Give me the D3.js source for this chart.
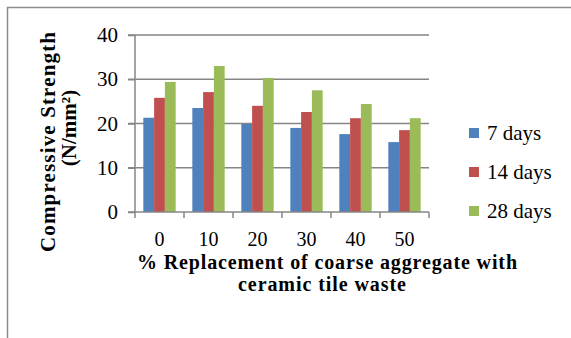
<!DOCTYPE html>
<html>
<head>
<meta charset="utf-8">
<script src="https://cdn.jsdelivr.net/npm/d3@7"></script>
<style>
  body { margin: 0; background: #fff; }
  svg text { font-family: "Liberation Serif", "DejaVu Serif", serif; }
</style>
</head>
<body>
<svg id="chart" width="571" height="338"></svg>
<script>
let categories = ["0", "10", "20", "30", "40", "50"];
let seriesNames = ["7 days", "14 days", "28 days"];
let days7 = [21.3, 23.5, 19.9, 19.0, 17.6, 15.8];
let days14 = [25.8, 27.1, 24.0, 22.6, 21.2, 18.5];
let days28 = [29.4, 33.0, 30.3, 27.5, 24.4, 21.2];
let yTicks = [0, 10, 20, 30, 40];
let colors = ["#4F81BD", "#C0504D", "#9BBB59"];

let svg = d3.select("#chart"),
    margin = {top: 35, right: 142, bottom: 126, left: 135},
    width = +svg.attr("width"),
    height = +svg.attr("height");

// outer chart frame (only top and left edges are visible)
svg.append("path")
    .attr("d", "M7.5,338V7.5H571")
    .attr("fill", "none")
    .attr("stroke", "#8c8c8c")
    .attr("stroke-width", 1.5);

let x = d3.scaleBand()
    .domain(categories)
    .range([margin.left, width - margin.right]);

let xInner = d3.scaleBand()
    .domain(seriesNames)
    .range([0, x.bandwidth() * 0.66])
    .padding(0);

let y = d3.scaleLinear()
    .domain([0, 40])
    .range([height - margin.bottom, margin.top]);

// gridlines
svg.append("g")
    .selectAll("line")
    .data(yTicks.slice(1))
    .enter().append("line")
    .attr("x1", margin.left - 7)
    .attr("x2", width - margin.right)
    .attr("y1", d => y(d))
    .attr("y2", d => y(d))
    .attr("stroke", "#868686")
    .attr("stroke-width", 1.5);

let rows = [];
categories.forEach((c, i) => {
    [days7, days14, days28].forEach((s, k) => {
        rows.push({cat: c, series: seriesNames[k], value: s[i], k: k});
    });
});

let groupOffset = (x.bandwidth() - xInner.range()[1]) / 2;

svg.append("g")
    .selectAll("rect")
    .data(rows)
    .enter().append("rect")
    .attr("x", d => x(d.cat) + groupOffset + xInner(d.series))
    .attr("y", d => y(d.value))
    .attr("width", xInner.bandwidth())
    .attr("height", d => y(0) - y(d.value))
    .attr("fill", d => colors[d.k]);

// y axis
let yAxis = d3.axisLeft(y).tickValues(yTicks).tickSize(7).tickPadding(10);
let gy = svg.append("g")
    .attr("transform", "translate(" + margin.left + ",0)")
    .call(yAxis)
    .attr("font-family", null);
gy.select(".domain").remove();
gy.append("line")
    .attr("x1", 0).attr("x2", 0)
    .attr("y1", y(40)).attr("y2", y(0))
    .attr("stroke", "#868686").attr("stroke-width", 1.5);
gy.selectAll(".tick line").attr("stroke", "#868686").attr("stroke-width", 1.5);
gy.selectAll(".tick text")
    .attr("font-size", "21px")
    .attr("fill", "#000");

// x axis
let boundaries = d3.range(categories.length + 1).map(i => margin.left + i * x.step());
let gx = svg.append("g");
gx.append("line")
    .attr("x1", margin.left - 7).attr("x2", width - margin.right)
    .attr("y1", y(0)).attr("y2", y(0))
    .attr("stroke", "#868686").attr("stroke-width", 1.5);
gx.selectAll(".xtick")
    .data(boundaries)
    .enter().append("line")
    .attr("x1", d => d).attr("x2", d => d)
    .attr("y1", y(0)).attr("y2", y(0) + 6)
    .attr("stroke", "#868686").attr("stroke-width", 1.5);
gx.selectAll("text")
    .data(categories)
    .enter().append("text")
    .attr("x", d => x(d) + x.bandwidth() / 2)
    .attr("y", 246)
    .attr("text-anchor", "middle")
    .attr("font-size", "20px")
    .text(d => d);

// axis titles
let xTitle = svg.append("text")
    .attr("text-anchor", "middle")
    .attr("font-size", "20px")
    .attr("font-weight", "bold");
xTitle.append("tspan").attr("x", 327).attr("y", 269)
    .attr("textLength", 380).attr("lengthAdjust", "spacing")
    .text("% Replacement of coarse aggregate with");
xTitle.append("tspan").attr("x", 322).attr("y", 291)
    .attr("textLength", 168).attr("lengthAdjust", "spacing")
    .text("ceramic tile waste");

svg.append("text")
    .attr("transform", "translate(55,142) rotate(-90)")
    .attr("text-anchor", "middle")
    .attr("font-size", "21px")
    .attr("font-weight", "bold")
    .attr("textLength", 220).attr("lengthAdjust", "spacing")
    .text("Compressive Strength");
svg.append("text")
    .attr("transform", "translate(76,128) rotate(-90)")
    .attr("text-anchor", "middle")
    .attr("font-size", "21px")
    .attr("font-weight", "bold")
    .text("(N/mm²)");

// legend
let legend = svg.append("g")
    .selectAll("g")
    .data(seriesNames)
    .enter().append("g")
    .attr("transform", (d, i) => "translate(469," + (133 + i * 39) + ")");
legend.append("rect")
    .attr("x", 0).attr("y", -5)
    .attr("width", 10).attr("height", 10)
    .attr("fill", (d, i) => colors[i]);
legend.append("text")
    .attr("x", 18).attr("y", 7)
    .attr("font-size", "21px")
    .text(d => d);
</script>
</body>
</html>
